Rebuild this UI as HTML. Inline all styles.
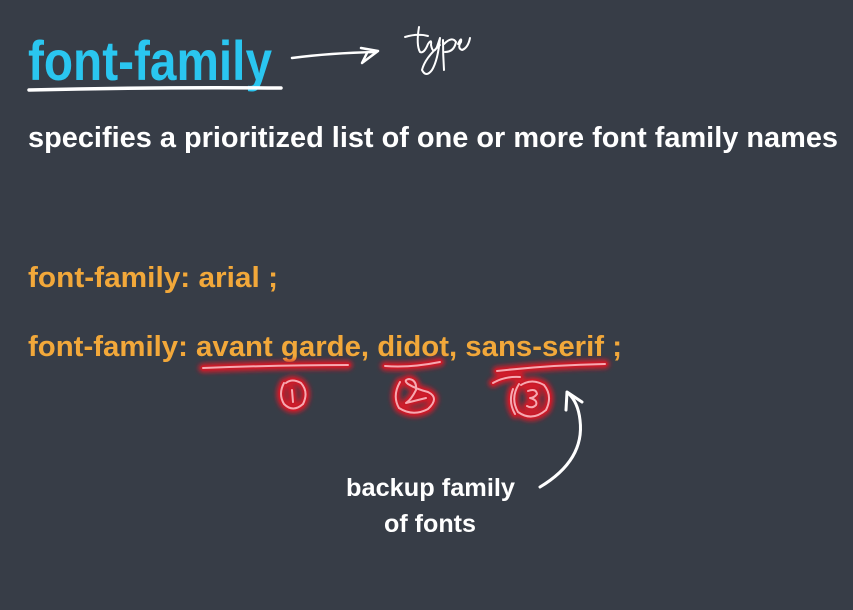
<!DOCTYPE html>
<html><head><meta charset="utf-8"><style>
html,body{margin:0;padding:0;background:#373d47;}
svg{display:block}
text{font-family:"Liberation Sans",sans-serif;font-weight:bold}
</style></head><body>
<svg width="853" height="610" viewBox="0 0 853 610" xmlns="http://www.w3.org/2000/svg">
<defs>
<filter id="blur" x="-50%" y="-50%" width="200%" height="200%">
<feGaussianBlur stdDeviation="2.5"/>
</filter>
<g id="marks" fill="none" stroke-linecap="round" stroke-linejoin="round">
<path d="M203 368 Q280 365 348 365"/>
<path d="M385 366 Q410 368 440 362"/>
<path d="M497 371 Q550 365 605 364"/>
<path d="M493 383 Q505 376 520 377"/>
<path d="M284 383 Q278 394 284 404 Q293 413 303 404 Q309 392 301 383 Q292 378 286 383 M292 390 L293 402"/>
<path d="M400 382 Q392 396 399 408 Q413 417 428 409 Q440 398 428 392 Q416 389 408 384 Q403 380 409 379 Q417 380 416 390 Q411 400 406 403 L426 398"/>
<path d="M519 384 Q510 398 518 412 Q532 422 546 410 Q553 396 544 385 Q532 378 521 385 M528 391 Q536 388 537 394 Q534 398 530 398 Q538 400 536 405 Q532 409 527 406"/>
<path d="M513 389 Q508 402 515 414"/>
</g>
</defs>
<rect width="853" height="610" fill="#373d47"/>
<text x="28" y="80" font-size="56" fill="#2ac6f0" textLength="244" lengthAdjust="spacingAndGlyphs">font-family</text>
<path d="M29 90 Q150 87 281 88" stroke="#fff" stroke-width="3.5" fill="none" stroke-linecap="round"/>
<path d="M292 58 Q330 53 376 52" stroke="#fff" stroke-width="2.5" fill="none" stroke-linecap="round"/>
<path d="M361 48 L378 51 L362 63 L367 53" stroke="#fff" stroke-width="2.5" fill="none" stroke-linejoin="round" stroke-linecap="round"/>
<path d="M405 37 Q418 33 428 36 M419 27 Q416 45 420 52 Q424 54 428 44 Q432 38 431 45 Q433 55 437 47 L440 38 Q438 60 432 70 Q426 78 422 70 Q425 58 440 45 M443 40 Q443 55 444 70 M444 44 Q452 36 456 42 Q454 52 445 52 M458 44 Q462 36 461 42 Q457 48 462 50 Q468 48 470 38" stroke="#fff" stroke-width="2" fill="none" stroke-linecap="round" stroke-linejoin="round"/>
<text x="28" y="147" font-size="29" fill="#ffffff" textLength="810" lengthAdjust="spacingAndGlyphs">specifies a prioritized list of one or more font family names</text>
<text x="28" y="287" font-size="29" fill="#f2a83a" textLength="250" lengthAdjust="spacingAndGlyphs">font-family: arial ;</text>
<text x="28" y="356" font-size="29" fill="#f2a83a" textLength="594" lengthAdjust="spacingAndGlyphs">font-family: avant garde, didot, sans-serif ;</text>
<use href="#marks" stroke="#d01a2a" stroke-width="9" filter="url(#blur)"/>
<use href="#marks" stroke="#c81a28" stroke-width="5"/>
<use href="#marks" stroke="#f7a8b0" stroke-width="2"/>
<path d="M540 487 Q585 460 580 420 Q578 402 568 393" stroke="#fff" stroke-width="3" fill="none" stroke-linecap="round"/>
<path d="M566 410 L567 392 L582 402" stroke="#fff" stroke-width="3" fill="none" stroke-linecap="round" stroke-linejoin="round"/>
<text x="346" y="496" font-size="25" fill="#ffffff" textLength="169" lengthAdjust="spacingAndGlyphs">backup family</text>
<text x="384" y="532" font-size="25" fill="#ffffff" textLength="92" lengthAdjust="spacingAndGlyphs">of fonts</text>
</svg>
</body></html>
